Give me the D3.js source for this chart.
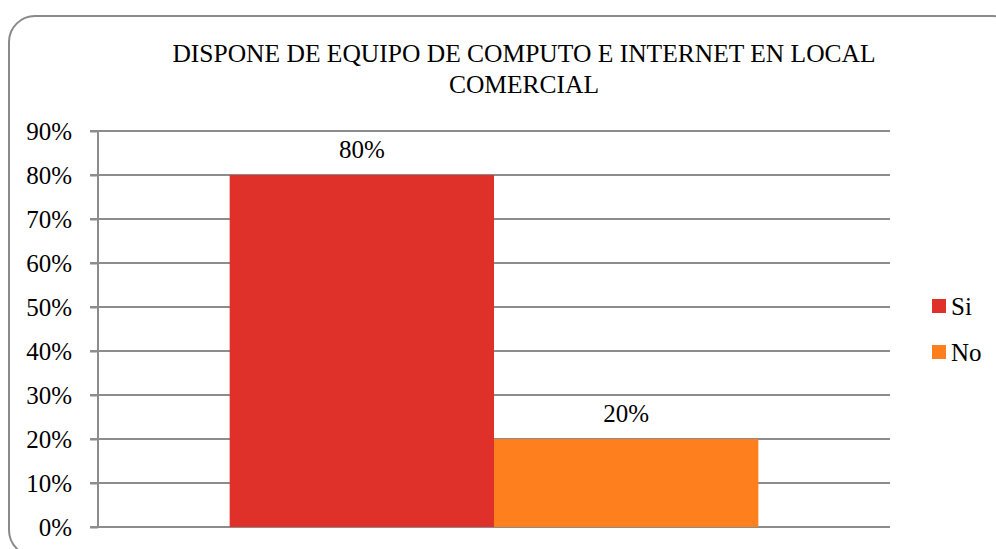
<!DOCTYPE html>
<html>
<head>
<meta charset="utf-8">
<script src="https://cdn.jsdelivr.net/npm/d3@7"></script>
<style>
  body { margin: 0; background: #fff; }
  svg { display: block; font-family: "Liberation Serif", "Times New Roman", serif; }
</style>
</head>
<body>
<svg id="chart" width="996" height="549"></svg>
<script>
const titleLines = ["DISPONE DE EQUIPO DE COMPUTO E INTERNET EN LOCAL", "COMERCIAL"];
const categories = [""];
const seriesNames = ["Si", "No"];
const seriesValues = [0.80, 0.20];
const seriesColors = ["#e0302a", "#fd7f1d"];
const yTicks = [0, 0.1, 0.2, 0.3, 0.4, 0.5, 0.6, 0.7, 0.8, 0.9];

const svg = d3.select("#chart");
const plot = { left: 98, right: 890, top: 131, bottom: 527 };
const fontSize = 25;

// Outer frame
svg.append("rect")
  .attr("x", 9).attr("y", 16)
  .attr("width", 1010).attr("height", 540)
  .attr("rx", 26).attr("ry", 26)
  .attr("fill", "#fff")
  .attr("stroke", "#8a8a8a")
  .attr("stroke-width", 2);

// Title
svg.append("text")
  .attr("x", 524).attr("y", 62)
  .attr("text-anchor", "middle")
  .attr("font-size", 25.5)
  .selectAll("tspan")
  .data(titleLines)
  .enter()
  .append("tspan")
  .attr("x", 524)
  .attr("dy", (d, i) => i === 0 ? 0 : 31)
  .text(d => d);

const y = d3.scaleLinear().domain([0, 0.9]).range([plot.bottom, plot.top]);
const x0 = d3.scaleBand().domain(categories).range([plot.left, plot.right]).paddingInner(0).paddingOuter(0.249);
const x1 = d3.scaleBand().domain(seriesNames).range([0, x0.bandwidth()]);

// Grid
svg.append("g")
  .selectAll("line")
  .data(yTicks)
  .enter()
  .append("line")
  .attr("x1", plot.left - 8).attr("x2", plot.right)
  .attr("y1", d => y(d)).attr("y2", d => y(d))
  .attr("stroke", "#8c8c8c")
  .attr("stroke-width", 2);

// Y axis
const yAxis = svg.append("g")
  .attr("transform", `translate(${plot.left},0)`)
  .call(d3.axisLeft(y).tickValues(yTicks).tickFormat(d3.format(".0%")).tickSize(8).tickPadding(18));
yAxis.select(".domain").attr("stroke", "#8c8c8c").attr("stroke-width", 2)
  .attr("d", `M0,${plot.top}V${plot.bottom}`);
yAxis.selectAll(".tick line").attr("stroke", "#8c8c8c").attr("stroke-width", 2);
yAxis.selectAll(".tick text")
  .attr("font-family", "Liberation Serif, Times New Roman, serif")
  .attr("font-size", fontSize)
  .attr("fill", "#000")
  .attr("dy", "0.34em");

// Bars
const bars = seriesNames.map((s, i) => ({ name: s, value: seriesValues[i], color: seriesColors[i], cat: categories[0] }));
svg.append("g")
  .selectAll("rect")
  .data(bars)
  .enter()
  .append("rect")
  .attr("x", d => x0(d.cat) + x1(d.name))
  .attr("y", d => y(d.value))
  .attr("width", x1.bandwidth())
  .attr("height", d => y(0) - y(d.value))
  .attr("fill", d => d.color);

// Data labels
svg.append("g")
  .selectAll("text")
  .data(bars)
  .enter()
  .append("text")
  .attr("x", d => x0(d.cat) + x1(d.name) + x1.bandwidth() / 2)
  .attr("y", d => y(d.value) - 17)
  .attr("text-anchor", "middle")
  .attr("font-size", fontSize)
  .text(d => d3.format(".0%")(d.value));

// Legend
const legend = svg.append("g")
  .selectAll("g")
  .data(bars)
  .enter()
  .append("g")
  .attr("transform", (d, i) => `translate(932,${299 + i * 46})`);
legend.append("rect").attr("width", 14).attr("height", 14).attr("fill", d => d.color);
legend.append("text")
  .attr("x", 19).attr("y", 16)
  .attr("font-size", fontSize)
  .text(d => d.name);
</script>
</body>
</html>
